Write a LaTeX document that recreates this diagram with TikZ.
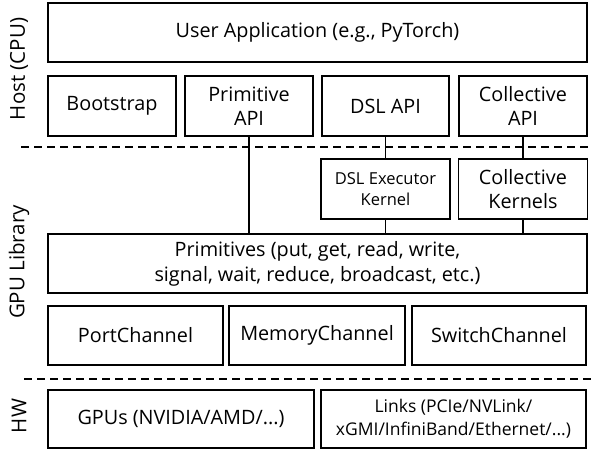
\documentclass[tikz,border=0pt]{standalone}
\usepackage{fontspec}
\setmainfont{Open Sans}
\begin{document}
\begin{tikzpicture}[x=1pt,y=-1pt,
  box/.style={draw,line width=1.6pt,inner sep=0pt,align=center,font=\fontsize{19.8}{24}\selectfont},
  smallbox/.style={box,font=\fontsize{16.5}{21}\selectfont},
  sidelabel/.style={rotate=90,font=\fontsize{20.5}{22}\selectfont,inner sep=0pt},
  sep/.style={dashed,line width=1.4pt,dash pattern=on 8pt off 5pt},
  conn/.style={line width=1.4pt}]
\useasboundingbox (0,0) rectangle (592,450);
\node[box,minimum width=539pt,minimum height=59pt] (app) at (317.5,32.5) {User Application (e.g., PyTorch)};
\node[box,minimum width=128pt,minimum height=60pt] (boot) at (112,106) {Bootstrap};
\node[box,minimum width=128pt,minimum height=60pt] (primapi) at (249,106) {Primitive\\API};
\node[box,minimum width=127pt,minimum height=60pt] (dslapi) at (385.5,106) {DSL API};
\node[box,minimum width=128pt,minimum height=60pt] (collapi) at (523,106) {Collective\\API};
\node[smallbox,minimum width=129pt,minimum height=60pt] (dslexec) at (385.5,189) {DSL Executor\\Kernel};
\node[box,minimum width=129pt,minimum height=60pt] (collkern) at (523,189) {Collective\\Kernels};
\node[box,minimum width=539pt,minimum height=59pt,font=\fontsize{19.8}{25}\selectfont] (prims) at (317.5,263.5) {Primitives (put, get, read, write,\\signal, wait, reduce, broadcast, etc.)};
\node[box,minimum width=175pt,minimum height=59pt] (port) at (135.5,335.5) {PortChannel};
\node[box,minimum width=176pt,minimum height=59pt] (mem) at (317,335.5) {MemoryChannel};
\node[box,minimum width=174pt,minimum height=59pt] (switch) at (499,335.5) {SwitchChannel};
\node[box,minimum width=266pt,minimum height=58pt] (gpus) at (181,419) {GPUs (NVIDIA/AMD/...)};
\node[smallbox,minimum width=265pt,minimum height=58pt,font=\fontsize{17.5}{23}\selectfont] (links) at (453.5,419) {Links (PCIe/NVLink/\\xGMI/InfiniBand/Ethernet/...)};
\coordinate (d1a) at (21,147);
\coordinate (d1b) at (592,147);
\coordinate (d2a) at (24,379);
\coordinate (d2b) at (592,379);
\draw[sep] (d1a) -- (d1b);
\draw[sep] (d2a) -- (d2b);
\draw[conn] (primapi.south) -- (primapi.south |- prims.north);
\draw[conn] (dslapi.south) -- (dslexec.north);
\draw[conn] (collapi.south) -- (collkern.north);
\draw[conn] (dslexec.south) -- (dslexec.south |- prims.north);
\draw[conn] (collkern.south) -- (collkern.south |- prims.north);
\node[sidelabel] (host) at (19,69) {Host (CPU)};
\node[sidelabel] (gpulib) at (19,262) {GPU Library};
\node[sidelabel] (hw) at (19,416) {HW};
\end{tikzpicture}
\end{document}
